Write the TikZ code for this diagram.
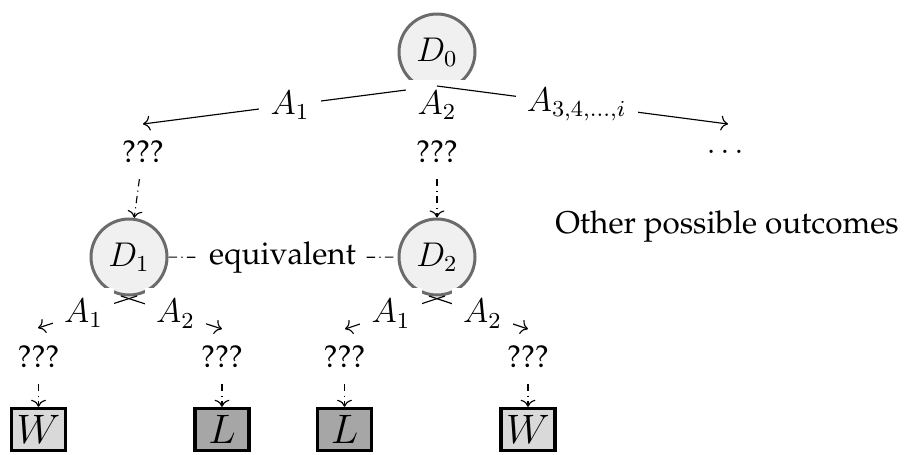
\documentclass[tikz,border=0pt]{standalone}
\usepackage[T1]{fontenc}
\renewcommand{\rmdefault}{ppl}
\usetikzlibrary{arrows.meta}
\begin{document}
\begin{tikzpicture}[x=0.35pt,y=-0.35pt,
  dnode/.style={circle, draw=black!58, fill=black!6, line width=1.05pt, minimum size=26.6pt, inner sep=0pt, font=\fontsize{12}{14}\selectfont},
  lab/.style={fill=white, inner sep=3.9pt, font=\fontsize{12}{14}\selectfont},
  qnode/.style={inner sep=5.5pt, font=\fontsize{11}{13}\selectfont},
  txt/.style={font=\fontsize{11}{13}\selectfont},
  conn/.style={->, line width=0.4pt},
  dd/.style={->, line width=0.4pt, dash pattern=on 2.5pt off 1.5pt on 0.4pt off 1.5pt},
  ddl/.style={line width=0.4pt, dash pattern=on 3pt off 1.5pt on 0.4pt off 1.5pt},
  winbox/.style={draw=black, line width=1.15pt, fill=black!15, minimum width=18.9pt, minimum height=14.7pt, inner sep=0pt, font=\fontsize{14.4}{16}\selectfont},
  losebox/.style={winbox, fill=black!35},
]
\useasboundingbox (0,0) rectangle (905,454);

% decision nodes
\node[dnode] (D0) at (437,52) {$D_0$};
\node[dnode] (D1) at (129,257) {$D_1$};
\node[dnode] (D2) at (437,257) {$D_2$};

% first level
\coordinate (s0) at (437,86);
\coordinate (t01) at (143,124);
\coordinate (t03) at (728,124);
\node[qnode] (q1) at (143,152) {???};
\node[qnode] (q2) at (437,152) {???};
\node[txt] (q3) at (725,152) {$\ldots$};
\node[txt] (other) at (727,227) {Other possible outcomes};

\draw[conn] (s0) -- node[lab, pos=0.5] (l01) {$A_1$} (t01);
\draw (s0) -- node[lab] (l02) {$A_2$} (q2);
\draw[conn] (s0) -- node[lab, pos=0.48] (l03) {$A_{3,4,\ldots,i}$} (t03);

\draw[dd] (q1) -- (D1);
\draw[dd] (q2) -- (D2);

% equivalence
\node[txt, inner sep=3.5pt] (eq) at (282.5,257.5) {equivalent};
\draw[ddl] (D1) -- (eq);
\draw[ddl] (eq) -- (D2);

% second level under D1
\coordinate (s1a) at (137,296);
\coordinate (s1b) at (121,296);
\coordinate (t11) at (38,328);
\coordinate (t12) at (222,329);
\draw[conn] (s1a) -- node[lab, pos=0.54] (l11) {$A_1$} (t11);
\draw[conn] (s1b) -- node[lab, pos=0.54] (l12) {$A_2$} (t12);

% second level under D2
\coordinate (s2a) at (445,296);
\coordinate (s2b) at (429,296);
\coordinate (t21) at (345,329);
\coordinate (t22) at (528,329);
\draw[conn] (s2a) -- node[lab, pos=0.54] (l21) {$A_1$} (t21);
\draw[conn] (s2b) -- node[lab, pos=0.54] (l22) {$A_2$} (t22);

% outcomes
\node[qnode] (q11) at (38.5,357) {???};
\node[qnode] (q12) at (222,357) {???};
\node[qnode] (q21) at (344.5,357) {???};
\node[qnode] (q22) at (528,357) {???};

\node[winbox] (b11) at (38.5,429.5) {$W$};
\node[losebox] (b12) at (222,429.5) {$L$};
\node[losebox] (b21) at (344.5,429.5) {$L$};
\node[winbox] (b22) at (528,429.5) {$W$};

\draw[dd] (q11) -- (b11);
\draw[dd] (q12) -- (b12);
\draw[dd] (q21) -- (b21);
\draw[dd] (q22) -- (b22);
\end{tikzpicture}
\end{document}
